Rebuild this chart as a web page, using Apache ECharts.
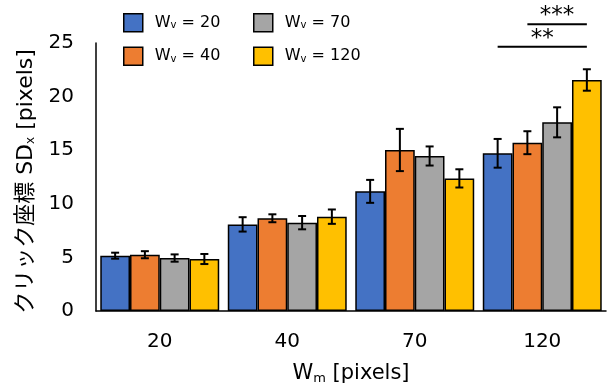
<!DOCTYPE html>
<html><head><meta charset="utf-8">
<script src="https://cdn.jsdelivr.net/npm/echarts@6/dist/echarts.min.js"></script>
<style>html,body{margin:0;padding:0;background:#fff}#c{width:608px;height:387px}</style>
</head><body><div id="c"></div>
<script>
const categories = ['20', '40', '70', '120'];
const seriesNames = ['20', '40', '70', '120'];
const means_wv20 = [5.16, 8.08, 11.16, 14.71];
const means_wv40 = [5.25, 8.65, 15.02, 15.70];
const means_wv70 = [4.94, 8.24, 14.46, 17.60];
const means_wv120 = [4.85, 8.80, 12.37, 21.55];
const err_wv20 = [0.28, 0.67, 1.07, 1.34];
const err_wv40 = [0.33, 0.37, 1.97, 1.07];
const err_wv70 = [0.34, 0.62, 0.89, 1.40];
const err_wv120 = [0.47, 0.67, 0.85, 1.00];
const yTicks = [0, 5, 10, 15, 20, 25];
const sigMarks = [
  { category: '120', from: 0, to: 3, level: 24.65, label: '**' },
  { category: '120', from: 1, to: 3, level: 26.74, label: '***' }
];

const colors = ['#4472C4', '#ED7D31', '#A5A5A5', '#FFC000'];
const allMeans = [means_wv20, means_wv40, means_wv70, means_wv120];
const allErrs = [err_wv20, err_wv40, err_wv70, err_wv120];
const GAP = 0.067;
const FONT = '"DejaVu Sans", "Noto Sans CJK JP", sans-serif';
const legendName = n => 'W{sub|v} = ' + n;

const barSeries = seriesNames.map((n, i) => ({
  name: n, type: 'bar', data: allMeans[i],
  barGap: '0%', barCategoryGap: (GAP * 100) + '%',
  itemStyle: { color: colors[i], borderColor: '#000', borderWidth: 1.5, borderRadius: 0 },
  z: 2
}));

const errData = [];
allMeans.forEach((arr, s) => arr.forEach((m, c) => errData.push([c, s, m, allErrs[s][c]])));

const sigData = sigMarks.map((m, k) => [categories.indexOf(m.category), m.from, m.to, m.level, k]);

function barX(api, cat, s, val) {
  const c = api.coord([cat, val]);
  const band = api.size([1, 0])[0];
  const bw = band * (1 - GAP) / 4;
  return [c[0] + (s - 1.5) * bw, c[1]];
}

function legendCfg(names, left) {
  return {
    data: names.map(n => ({ name: n, icon: 'rect' })), orient: 'vertical', left: left, top: 13, padding: 0,
    itemWidth: 19, itemHeight: 18, itemGap: 14, selectedMode: false,
    formatter: legendName,
    itemStyle: { borderColor: '#000', borderWidth: 1.5 },
    textStyle: { fontFamily: FONT, fontSize: 16, color: '#000', padding: [0, 0, 0, 7],
      rich: { sub: { fontFamily: FONT, fontSize: 10, color: '#000', padding: [6, 0, 0, 0] } } }
  };
}

const option = {
  animation: false,
  textStyle: { fontFamily: FONT },
  grid: { left: 96, right: 2, top: 43, bottom: 76, containLabel: false, outerBoundsMode: 'none' },
  legend: [legendCfg([seriesNames[0], seriesNames[1]], 123), legendCfg([seriesNames[2], seriesNames[3]], 253)],
  xAxis: {
    type: 'category', data: categories,
    name: 'W{sub|m} [pixels]', nameLocation: 'middle', nameGap: 51,
    nameTextStyle: { fontFamily: FONT, fontSize: 21, color: '#000',
      rich: { sub: { fontFamily: FONT, fontSize: 13, color: '#000', padding: [10, 0, 0, 0] } } },
    axisLine: { lineStyle: { color: '#000', width: 1.5 } },
    axisTick: { show: false },
    axisLabel: { fontFamily: FONT, fontSize: 20, color: '#000', margin: 21 }
  },
  yAxis: {
    type: 'value', min: yTicks[0], max: yTicks[yTicks.length - 1], interval: yTicks[1] - yTicks[0],
    name: 'クリック座標 SD{sub|x} [pixels]', nameLocation: 'middle', nameGap: 57,
    nameTextStyle: { fontFamily: FONT, fontSize: 22, color: '#000', padding: [0, 9, 0, 0],
      rich: { sub: { fontFamily: FONT, fontSize: 12, color: '#000', padding: [8, 0, 0, 0] } } },
    axisLine: { show: true, lineStyle: { color: '#000', width: 1.5 } },
    axisTick: { show: false },
    splitLine: { show: false },
    axisLabel: { fontFamily: FONT, fontSize: 20, color: '#000', margin: 22 }
  },
  series: barSeries.concat([
    {
      type: 'custom', name: 'err', data: errData, z: 5, clip: false,
      renderItem: (params, api) => {
        const cat = api.value(0), s = api.value(1), m = api.value(2), e = api.value(3);
        const top = barX(api, cat, s, m + e), bot = barX(api, cat, s, m - e);
        const x = top[0], cw = 4;
        const st = { stroke: '#000', lineWidth: 2 };
        return { type: 'group', children: [
          { type: 'line', shape: { x1: x, y1: top[1], x2: x, y2: bot[1] }, style: st },
          { type: 'line', shape: { x1: x - cw, y1: top[1], x2: x + cw, y2: top[1] }, style: st },
          { type: 'line', shape: { x1: x - cw, y1: bot[1], x2: x + cw, y2: bot[1] }, style: st }
        ] };
      }
    },
    {
      type: 'custom', name: 'sig', data: sigData, z: 5, clip: false,
      renderItem: (params, api) => {
        const cat = api.value(0), f = api.value(1), t = api.value(2), lv = api.value(3), k = api.value(4);
        const a = barX(api, cat, f, lv), b = barX(api, cat, t, lv);
        return { type: 'group', children: [
          { type: 'line', shape: { x1: a[0], y1: a[1], x2: b[0], y2: b[1] }, style: { stroke: '#000', lineWidth: 2 } },
          { type: 'text', x: (a[0] + b[0]) / 2, y: a[1] - 8,
            style: { text: sigMarks[k].label, fontFamily: FONT, fontSize: 23, fill: '#000', align: 'center', verticalAlign: 'middle' } }
        ] };
      }
    }
  ])
};
const chart = echarts.init(document.getElementById('c'));
chart.setOption(option);
</script>
</body></html>
